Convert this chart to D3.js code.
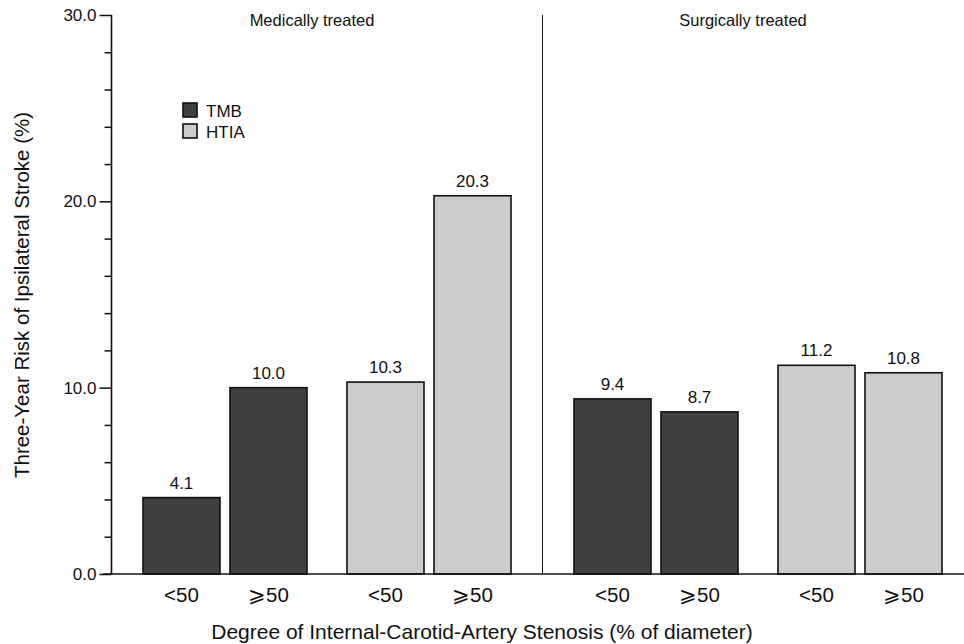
<!DOCTYPE html>
<html><head><meta charset="utf-8">
<script src="https://cdn.jsdelivr.net/npm/d3@7"></script>
<style>body{margin:0;background:#fff}text{font-family:"Liberation Sans",Arial,sans-serif;fill:#111}</style>
</head><body><svg id="c" width="964" height="644"></svg>
<script>
const sections = ["Medically treated", "Surgically treated"];
const groups = ["TMB", "HTIA"];
const stenosis = ["<50", "⩾50"];
const medicalTMB = [4.1, 10.0];
const medicalHTIA = [10.3, 20.3];
const surgicalTMB = [9.4, 8.7];
const surgicalHTIA = [11.2, 10.8];
const yTicks = [0, 10, 20, 30];
const yMinor = d3.range(0, 30.01, 2);
const colors = {TMB: "#404040", HTIA: "#cccccc"};

const data = [];
[[medicalTMB, medicalHTIA], [surgicalTMB, surgicalHTIA]].forEach((sec, si) => {
  sec.forEach((vals, gi) => {
    vals.forEach((v, ci) => data.push({section: sections[si], group: groups[gi], cat: stenosis[ci], value: v}));
  });
});

const svg = d3.select("#c");
const y = d3.scaleLinear().domain([0, 30]).range([574, 15]);
const xs = d3.scaleBand().domain(sections).range([143, 942]).paddingInner(63/431).paddingOuter(0);
const xg = d3.scaleBand().domain(groups).range([0, xs.bandwidth()]).paddingInner(40/204).paddingOuter(0);
const xc = d3.scaleBand().domain(stenosis).range([0, xg.bandwidth()]).paddingInner(10/87).paddingOuter(0);
const bx = d => xs(d.section) + xg(d.group) + xc(d.cat);

svg.selectAll("rect.bar").data(data).join("rect").attr("class", "bar")
  .attr("x", bx).attr("width", xc.bandwidth())
  .attr("y", d => y(d.value)).attr("height", d => y(0) - y(d.value))
  .attr("fill", d => colors[d.group]).attr("stroke", "#111").attr("stroke-width", 1.6);

svg.selectAll("text.val").data(data).join("text").attr("class", "val")
  .attr("x", d => bx(d) + xc.bandwidth() / 2).attr("y", d => y(d.value) - 9)
  .attr("text-anchor", "middle").attr("font-size", 17).text(d => d.value.toFixed(1));

svg.selectAll("text.cat").data(data).join("text").attr("class", "cat")
  .attr("x", d => bx(d) + xc.bandwidth() / 2).attr("y", 602)
  .attr("text-anchor", "middle").attr("font-size", 20.5).text(d => d.cat);

const yAxis = d3.axisLeft(y).tickValues(yTicks).tickFormat(d3.format(".1f")).tickSize(12).tickPadding(3);
const ga = svg.append("g").attr("transform", "translate(111.5,0)").call(yAxis);
ga.select(".domain").attr("stroke", "#111").attr("stroke-width", 1.6).attr("d", `M0,${y(30)}V${y(0)}`);
ga.selectAll(".tick line").attr("stroke", "#111").attr("stroke-width", 1.5);
ga.selectAll(".tick text").attr("font-size", 17).style("font-family", "Liberation Sans, Arial, sans-serif").attr("fill", "#111");
const gm = svg.append("g").attr("transform", "translate(111.5,0)").call(d3.axisLeft(y).tickValues(yMinor.filter(v => !yTicks.includes(v))).tickSize(7).tickFormat(""));
gm.select(".domain").remove();
gm.selectAll(".tick line").attr("stroke", "#111").attr("stroke-width", 1.5);

svg.append("line").attr("x1", 103).attr("x2", 964).attr("y1", y(0)).attr("y2", y(0)).attr("stroke", "#111").attr("stroke-width", 1.6);

const divX = (xs(sections[0]) + xs.bandwidth() + xs(sections[1])) / 2;
svg.append("line").attr("x1", divX).attr("x2", divX).attr("y1", y(30)).attr("y2", y(0)).attr("stroke", "#111").attr("stroke-width", 1);

svg.selectAll("text.sec").data(sections).join("text").attr("class", "sec")
  .attr("x", d => xs(d) + xs.bandwidth() / 2 - 15)
  .attr("y", 26).attr("text-anchor", "middle").attr("font-size", 16.5).text(d => d);

const lg = svg.append("g").attr("transform", "translate(183,103)");
groups.forEach((g, i) => {
  lg.append("rect").attr("x", 0).attr("y", i * 21).attr("width", 14).attr("height", 14)
    .attr("fill", colors[g]).attr("stroke", "#111").attr("stroke-width", 1.6);
  lg.append("text").attr("x", 23).attr("y", i * 21 + 14).attr("font-size", 17).text(g);
});

svg.append("text").attr("transform", "translate(29,295) rotate(-90)").attr("text-anchor", "middle")
  .attr("font-size", 20.5).text("Three-Year Risk of Ipsilateral Stroke (%)");
svg.append("text").attr("x", 482).attr("y", 639).attr("text-anchor", "middle")
  .attr("font-size", 21).text("Degree of Internal-Carotid-Artery Stenosis (% of diameter)");
</script></body></html>
